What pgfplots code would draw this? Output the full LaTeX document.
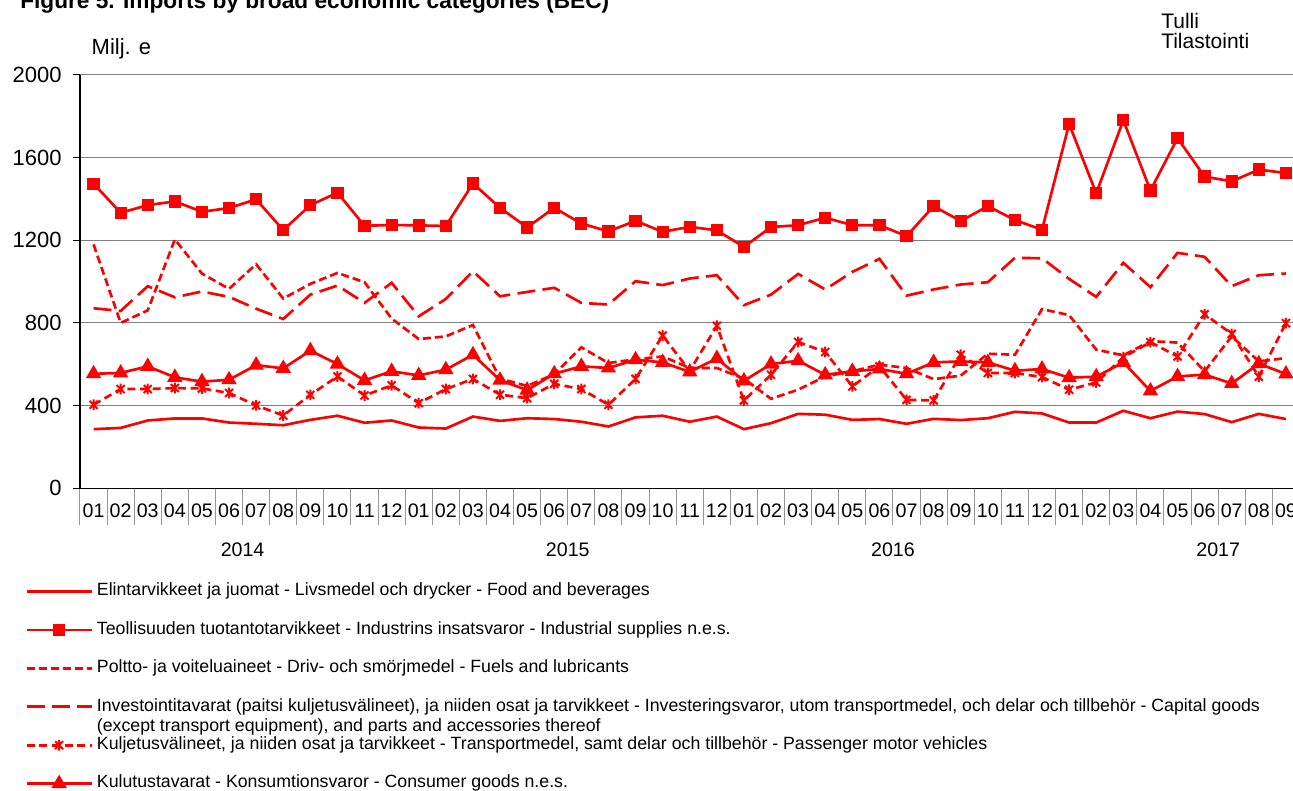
\documentclass[border=0pt]{standalone}
\usepackage{fontspec}
\setmainfont{Liberation Sans}
\usepackage{pgfplots}
\pgfplotsset{compat=1.18}
\usepackage{pgfplotstable}

\definecolor{xred}{RGB}{255,0,0}
\definecolor{xgrid}{RGB}{128,128,128}
\definecolor{xsep}{RGB}{150,150,150}

\pgfdeclareplotmark{xstar}{%
  \pgfpathmoveto{\pgfqpoint{-0.75\pgfplotmarksize}{-0.75\pgfplotmarksize}}%
  \pgfpathlineto{\pgfqpoint{0.75\pgfplotmarksize}{0.75\pgfplotmarksize}}%
  \pgfpathmoveto{\pgfqpoint{-0.75\pgfplotmarksize}{0.75\pgfplotmarksize}}%
  \pgfpathlineto{\pgfqpoint{0.75\pgfplotmarksize}{-0.75\pgfplotmarksize}}%
  \pgfpathmoveto{\pgfqpoint{0pt}{-\pgfplotmarksize}}%
  \pgfpathlineto{\pgfqpoint{0pt}{\pgfplotmarksize}}%
  \pgfusepathqstroke}

\pgfplotstableread{
x food ind fuel cap pass cons
0 286 1474 1180 871 404 554
1 292 1333 800 858 480 558
2 328 1370 861 978 480 590
3 338 1388 1204 924 485 537
4 338 1338 1039 952 483 516
5 318 1356 965 926 461 525
6 312 1398 1084 869 401 596
7 305 1249 918 819 352 580
8 331 1370 989 937 452 666
9 351 1430 1042 981 541 601
10 317 1270 997 897 449 522
11 328 1274 821 994 498 566
12 294 1272 722 832 412 546
13 289 1269 735 916 480 574
14 347 1475 790 1050 529 646
15 326 1357 530 929 453 523
16 339 1262 495 950 436 475
17 335 1357 552 970 505 554
18 322 1281 682 897 480 590
19 299 1243 606 889 404 582
20 343 1294 624 1002 529 622
21 351 1241 638 983 739 609
22 322 1265 582 1015 568 563
23 347 1248 582 1031 786 628
24 286 1168 530 886 425 520
25 315 1264 433 937 549 601
26 360 1273 477 1037 708 617
27 356 1309 541 962 659 549
28 331 1273 566 1047 493 566
29 335 1273 598 1110 590 577
30 312 1220 582 932 428 554
31 336 1365 528 962 425 609
32 330 1293 545 986 646 614
33 339 1365 651 997 558 609
34 370 1298 646 1115 558 569
35 362 1251 867 1113 538 577
36 318 1763 838 1013 477 535
37 318 1427 671 926 512 540
38 375 1781 643 1091 634 609
39 339 1441 712 973 707 471
40 371 1694 705 1139 638 541
41 359 1508 566 1120 842 550
42 320 1485 735 978 747 507
43 360 1542 614 1031 540 603
44 335 1525 630 1039 799 553
}\datatable

\newcommand\fTick{\fontsize{16.5}{19}\selectfont}
\newcommand\fMonth{\fontsize{14.7}{18}\selectfont}
\newcommand\fLeg{\fontsize{13.3}{15}\selectfont}

\begin{document}
\begin{tikzpicture}
\useasboundingbox (0,0) rectangle (969.75pt,592.5pt);
\begin{axis}[
  at={(60pt,226.3pt)}, anchor=south west,
  scale only axis, width=914.6pt, height=310pt,
  xmin=-0.5, xmax=44.5, ymin=0, ymax=2000,
  clip=false,
  axis lines*=left,
  axis line style={-, black, line width=0.8pt},
  ytick={0,400,...,2000},
  ymajorgrids,
  major grid style={xgrid, line width=0.75pt},
  tick align=outside,
  major tick length=5.25pt,
  ytick style={black, line width=0.75pt},
  /pgf/number format/assume math mode=true,
  /pgf/number format/set thousands separator={},
  yticklabel style={font=\fTick, xshift=-5pt},
  xtick={0,...,44},
  xticklabels={01,02,03,04,05,06,07,08,09,10,11,12,01,02,03,04,05,06,07,08,09,10,11,12,01,02,03,04,05,06,07,08,09,10,11,12,01,02,03,04,05,06,07,08,09},
  xticklabel style={font=\fMonth, yshift=-3pt},
  xtick style={draw=none},
  minor xtick={-0.5,0.5,...,44.5},
  minor x tick style={draw=xsep, line width=0.75pt},
  minor tick length=27.75pt,
  extra x ticks={-0.5,11.5,23.5,35.5},
  extra x tick labels={},
  extra x tick style={major tick length=55.5pt, draw=xsep, line width=0.75pt},
  legend cell align=left,
  legend style={at={(axis description cs:-0.0451,-0.2275)}, anchor=north west,
    draw=none, fill=none, font=\fLeg, row sep=15.3pt, column sep=3pt, inner sep=0pt,
    nodes={inner sep=0pt, text height=10pt, text depth=3.5pt}},
  legend image code/.code={\draw[mark repeat=2, mark phase=2, #1] plot coordinates {(0pt,0pt) (24.4pt,0pt) (48.75pt,0pt)};},
  every axis plot/.append style={xred, line width=2pt},
]
\addplot[no markers] table[x=x, y=food] {\datatable};
\addlegendentry{Elintarvikkeet ja juomat - Livsmedel och drycker - Food and beverages}
\addplot[mark=square*, mark size=3.6pt, mark options={solid, fill=xred}] table[x=x, y=ind] {\datatable};
\addlegendentry{Teollisuuden tuotantotarvikkeet - Industrins insatsvaror - Industrial supplies n.e.s.}
\addplot[no markers, dash pattern=on 6pt off 3pt] table[x=x, y=fuel] {\datatable};
\addlegendentry{Poltto- ja voiteluaineet - Driv- och smörjmedel - Fuels and lubricants}
\addplot[no markers, dash pattern=on 13.5pt off 5.5pt] table[x=x, y=cap] {\datatable};
\addlegendentry{\begin{tabular}[t]{@{}l@{}}Investointitavarat (paitsi kuljetusvälineet), ja niiden osat ja tarvikkeet - Investeringsvaror, utom transportmedel, och delar och tillbehör - Capital goods\\(except transport equipment), and parts and accessories thereof\end{tabular}}
\addplot[mark=xstar, mark size=4pt, dash pattern=on 6pt off 3.5pt, mark options={solid, line width=1.5pt}] table[x=x, y=pass] {\datatable};
\addlegendentry{Kuljetusvälineet, ja niiden osat ja tarvikkeet - Transportmedel, samt delar och tillbehör - Passenger motor vehicles}
\addplot[mark=triangle*, mark size=4.7pt, mark options={solid, fill=xred}] table[x=x, y=cons] {\datatable};
\addlegendentry{Kulutustavarat - Konsumtionsvaror - Consumer goods n.e.s.}

\node[font=\fMonth] at (axis cs:5.5,0) [yshift=-46.3pt] {2014};
\node[font=\fMonth] at (axis cs:17.5,0) [yshift=-46.3pt] {2015};
\node[font=\fMonth] at (axis cs:29.5,0) [yshift=-46.3pt] {2016};
\node[font=\fMonth] at (axis cs:41.5,0) [yshift=-46.3pt] {2017};
\end{axis}
\node[anchor=base west, inner sep=0pt, font=\fontsize{17}{20}\bfseries] at (15pt,585.75pt) {Figure 5. Imports by broad economic categories (BEC)};
\node[anchor=base west, inner sep=0pt, font=\fTick] at (68.6pt,551.25pt) {Milj. e};
\node[anchor=base west, inner sep=0pt, font=\fontsize{15.75}{18}\selectfont] at (870.75pt,571.3pt) {Tulli};
\node[anchor=base west, inner sep=0pt, font=\fontsize{15.75}{18}\selectfont] at (870.75pt,556.3pt) {Tilastointi};
\end{tikzpicture}
\end{document}
